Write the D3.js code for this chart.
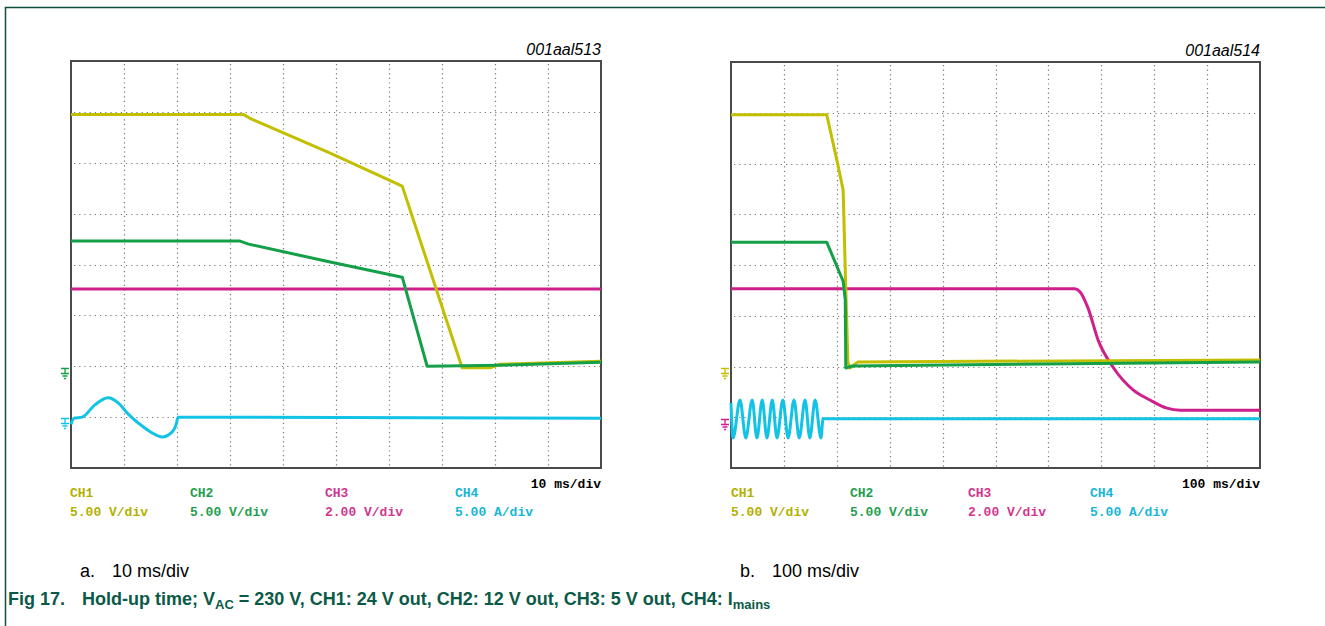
<!DOCTYPE html>
<html>
<head>
<meta charset="utf-8">
<script src="https://cdn.jsdelivr.net/npm/d3@7"></script>
<style>
  html, body { margin: 0; padding: 0; background: #fff; }
  svg { display: block; }
</style>
</head>
<body>
<svg id="chart" width="1325" height="626"></svg>
<script>
'use strict';

// Scope screens: 10 x 8 divisions, values in divisions above the bottom edge.
var panels = ['a', 'b'];
var panelIds = ['001aal513', '001aal514'];
var timebases = ['10 ms/div', '100 ms/div'];
var captions = ['10 ms/div', '100 ms/div'];

var channels = ['CH1', 'CH2', 'CH3', 'CH4'];
var channelScales = ['5.00 V/div', '5.00 V/div', '2.00 V/div', '5.00 A/div'];

// panel a, 10 ms/div  [time div, level div]
var aCh1 = [[0, 6.95], [3.25, 6.95], [3.4, 6.86], [4.89, 6.19], [6.25, 5.54],
  [7.38, 1.97], [7.91, 1.97], [8.09, 2.04], [10, 2.10]];
var aCh2 = [[0, 4.46], [3.19, 4.46], [3.35, 4.40], [4.89, 4.05], [6.25, 3.75],
  [6.72, 2.00], [8.09, 2.02], [10, 2.08]];
var aCh3 = [[0, 3.52], [10, 3.52]];
var aCh4 = [[0, 0.86], [0.06, 0.98], [0.21, 1.0], [0.45, 1.24], [0.70, 1.38],
  [0.89, 1.28], [1.08, 1.06], [1.30, 0.86], [1.53, 0.69], [1.72, 0.61],
  [1.91, 0.71], [1.99, 0.88], [2.02, 1.0], [10, 0.98]];

// panel b, 100 ms/div
var bCh1 = [[0, 6.96], [1.81, 6.96], [2.00, 6.07], [2.12, 5.48], [2.17, 3.51],
  [2.21, 2.09], [2.25, 1.97], [2.40, 2.09], [10, 2.13]];
var bCh2 = [[0, 4.45], [1.81, 4.45], [2.12, 3.68], [2.16, 3.31], [2.17, 1.97],
  [2.29, 2.01], [10, 2.09]];
var bCh3 = [[0, 3.53], [6.50, 3.53], [6.60, 3.47], [6.75, 3.15], [6.94, 2.52],
  [7.22, 1.99], [7.60, 1.54], [7.92, 1.34], [8.24, 1.18], [8.49, 1.14],
  [10, 1.14]];
var bCh4 = [[0, 1.28], [0.04, 0.59], [0.17, 1.34], [0.28, 0.59], [0.40, 1.34],
  [0.49, 0.59], [0.59, 1.34], [0.68, 0.59], [0.78, 1.34], [0.87, 0.59],
  [0.98, 1.34], [1.08, 0.59], [1.19, 1.34], [1.29, 0.59], [1.40, 1.34],
  [1.49, 0.59], [1.59, 1.34], [1.70, 0.59], [1.74, 0.97], [10, 0.97]];

// ground reference markers [channel index, level div]
var aGrounds = [[1, 1.97], [3, 0.98]];
var bGrounds = [[0, 1.97], [2, 0.97]];

var traces = [[aCh1, aCh2, aCh3, aCh4], [bCh1, bCh2, bCh3, bCh4]];
var grounds = [aGrounds, bGrounds];

var traceColors = ['#c2bf00', '#14a048', '#cf1f8c', '#12c3e6'];
var textColors = ['#b3b000', '#1f9e50', '#d0368f', '#16b6d8'];
// CH1/CH2 have hard corners, CH3/CH4 are smooth
var traceCurves = [d3.curveLinear, d3.curveLinear, d3.curveMonotoneX, d3.curveMonotoneX];
var boxes = [
  { x0: 71, x1: 601, y0: 61, y1: 468, legendX: [70, 190, 325, 455], capX: 80 },
  { x0: 731, x1: 1260, y0: 62, y1: 468, legendX: [731, 850, 968, 1090], capX: 740 }
];

var svg = d3.select('#chart');

// page frame
svg.append('path')
  .attr('d', 'M5.5,626V7.5H1325')
  .attr('fill', 'none')
  .attr('stroke', '#0b4f3f')
  .attr('stroke-width', 1.5);

/**
 * Draw one scope screen with graticule, traces, markers and labels.
 * @param {number} i panel index
 */
function drawPanel(i) {
  var box = boxes[i],
      g = svg.append('g').attr('class', 'panel-' + panels[i]),
      x = d3.scaleLinear().domain([0, 10]).range([box.x0, box.x1]),
      y = d3.scaleLinear().domain([0, 8]).range([box.y1, box.y0]);

  // dotted graticule
  g.append('g').selectAll('line').data(d3.range(1, 10)).join('line')
    .attr('x1', function(d) { return Math.round(x(d)) + 0.5; })
    .attr('x2', function(d) { return Math.round(x(d)) + 0.5; })
    .attr('y1', box.y0 + 3).attr('y2', box.y1)
    .attr('stroke', '#777').attr('stroke-width', 1.2)
    .attr('stroke-dasharray', '1.2,3.4');
  g.append('g').selectAll('line').data(d3.range(1, 8)).join('line')
    .attr('y1', function(d) { return Math.round(y(d)) + 0.5; })
    .attr('y2', function(d) { return Math.round(y(d)) + 0.5; })
    .attr('x1', box.x0 + 3).attr('x2', box.x1)
    .attr('stroke', '#777').attr('stroke-width', 1.2)
    .attr('stroke-dasharray', '1.2,4');

  g.append('rect')
    .attr('x', box.x0).attr('y', box.y0)
    .attr('width', box.x1 - box.x0).attr('height', box.y1 - box.y0)
    .attr('fill', 'none').attr('stroke', '#4a4a4a').attr('stroke-width', 2);

  // traces, CH4 and CH3 first so CH1/CH2 sit on top
  [3, 2, 0, 1].forEach(function(c) {
    var line = d3.line()
      .x(function(d) { return x(d[0]); })
      .y(function(d) { return y(d[1]); })
      .curve(traceCurves[c]);
    g.append('path')
      .datum(traces[i][c])
      .attr('d', line)
      .attr('fill', 'none')
      .attr('stroke', traceColors[c])
      .attr('stroke-width', 3)
      .attr('stroke-linejoin', 'round');
  });

  // ground markers at the left edge
  grounds[i].forEach(function(gr) {
    var cx = box.x0 - 6,
        cy = Math.round(y(gr[1])) + 0.5;
    g.append('path')
      .attr('d', 'M' + (cx - 4) + ',' + cy + 'H' + (cx + 4) +
        'M' + cx + ',' + cy + 'V' + (cy + 6) +
        'M' + (cx - 4) + ',' + (cy + 5) + 'H' + (cx + 4) +
        'M' + (cx - 2.5) + ',' + (cy + 7.5) + 'H' + (cx + 2.5) +
        'M' + (cx - 1) + ',' + (cy + 10) + 'H' + (cx + 1))
      .attr('fill', 'none')
      .attr('stroke', traceColors[gr[0]])
      .attr('stroke-width', 1.3);
  });

  g.append('text')
    .attr('x', box.x1).attr('y', box.y0 - 6)
    .attr('text-anchor', 'end')
    .attr('font-family', 'Liberation Sans, Arial, sans-serif')
    .attr('font-style', 'italic')
    .attr('font-size', 16)
    .text(panelIds[i]);

  g.append('text')
    .attr('x', box.x1).attr('y', box.y1 + 20)
    .attr('text-anchor', 'end')
    .attr('font-family', 'Liberation Mono, Courier New, monospace')
    .attr('font-weight', 'bold')
    .attr('font-size', 13)
    .text(timebases[i]);

  channels.forEach(function(ch, c) {
    var t = g.append('text')
      .attr('font-family', 'Liberation Mono, Courier New, monospace')
      .attr('font-weight', 'bold')
      .attr('font-size', 13)
      .attr('fill', textColors[c]);
    t.append('tspan').attr('x', box.legendX[c]).attr('y', box.y1 + 29).text(ch);
    t.append('tspan').attr('x', box.legendX[c]).attr('y', box.y1 + 48).text(channelScales[c]);
  });

  var cap = g.append('text')
    .attr('y', 577)
    .attr('font-family', 'Liberation Sans, Arial, sans-serif')
    .attr('font-size', 18);
  cap.append('tspan').attr('x', box.capX).text(panels[i] + '.');
  cap.append('tspan').attr('x', box.capX + 32).text(captions[i]);
}

panels.forEach(function(p, i) { drawPanel(i); });

// figure title
var title = svg.append('text')
  .attr('y', 605)
  .attr('font-family', 'Liberation Sans, Arial, sans-serif')
  .attr('font-weight', 'bold')
  .attr('font-size', 18)
  .attr('fill', '#0b5a47');
title.append('tspan').attr('x', 8).text('Fig 17.');
title.append('tspan').attr('x', 82).text('Hold-up time; V');
title.append('tspan').attr('dy', 4).attr('font-size', 13).text('AC');
title.append('tspan').attr('dy', -4).text(' = 230 V, CH1: 24 V out, CH2: 12 V out, CH3: 5 V out, CH4: I');
title.append('tspan').attr('dy', 4).attr('font-size', 13).text('mains');
</script>
</body>
</html>
